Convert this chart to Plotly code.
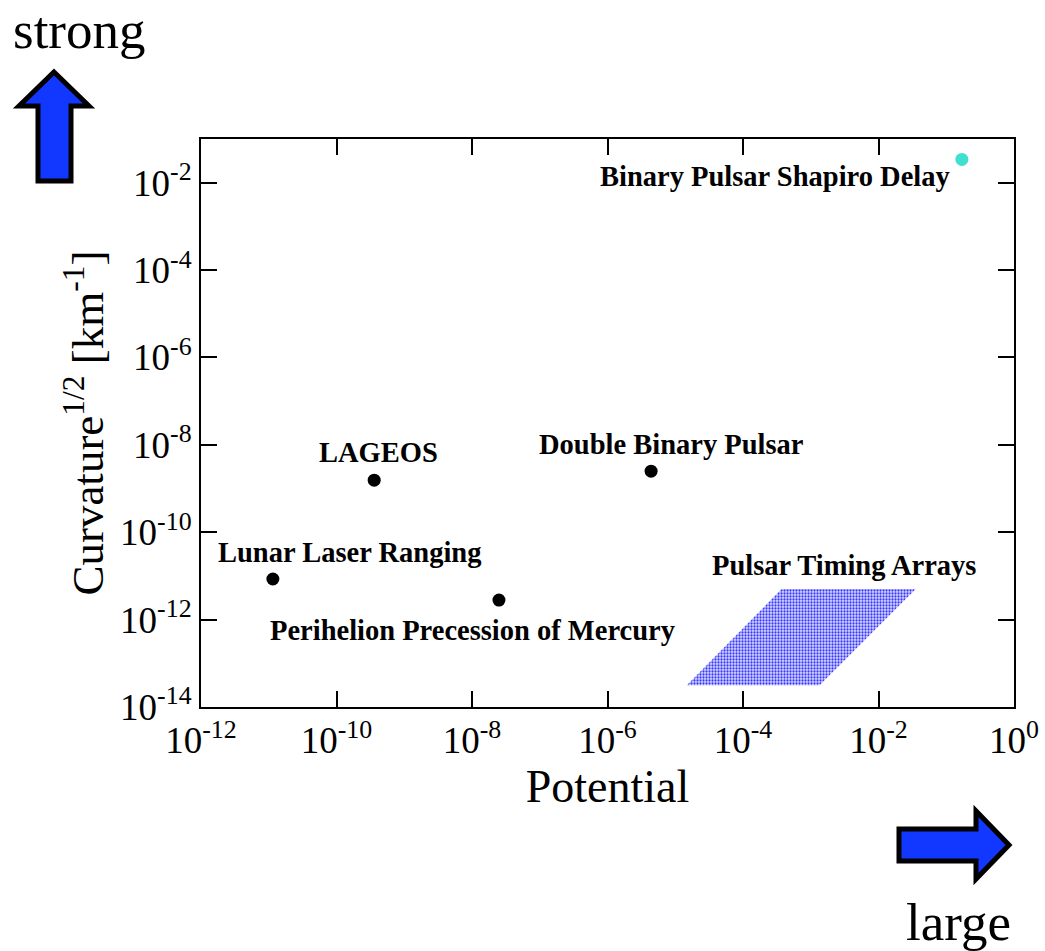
import numpy as np
import plotly.graph_objects as go

# ---- data ----
experiments = ["Lunar Laser Ranging", "LAGEOS", "Perihelion Precession of Mercury", "Double Binary Pulsar"]
potential = [1.15e-11, 3.6e-10, 2.5e-8, 4.4e-6]
curvature = [8.5e-12, 1.55e-9, 2.8e-12, 2.5e-9]

shapiro_name = "Binary Pulsar Shapiro Delay"
shapiro_potential = [0.17]
shapiro_curvature = [0.034]

pta_name = "Pulsar Timing Arrays"
pta_potential = [10**-4.83, 10**-2.87, 10**-1.45, 10**-3.43, 10**-4.83]
pta_curvature = [10**-13.5, 10**-13.5, 10**-11.3, 10**-11.3, 10**-13.5]

tick_exponents = [-14, -12, -10, -8, -6, -4, -2, 0]

# label offsets in pixels (style)
label_shift = {
    "Lunar Laser Ranging": (77, 27),
    "LAGEOS": (4, 28),
    "Perihelion Precession of Mercury": (-26, -30),
    "Double Binary Pulsar": (20, 27),
}

W, H = 1045, 951
L, R, T, B = 201, 31, 139, 244
SERIF = "Liberation Serif, Times New Roman, serif"

fig = go.Figure()

fig.add_trace(go.Scatter(
    x=pta_potential, y=pta_curvature, mode="lines", fill="toself",
    line=dict(width=0, color="rgba(0,0,0,0)"),
    fillcolor="rgba(255,255,255,0)",
    fillpattern=dict(shape=".", fgcolor="#3a3aff", bgcolor="#dcdcff", fgopacity=1,
                     size=3, solidity=0.45),
    hoverinfo="skip", showlegend=False))

fig.add_trace(go.Scatter(
    x=potential, y=curvature, mode="markers",
    marker=dict(color="black", size=13), showlegend=False))

fig.add_trace(go.Scatter(
    x=shapiro_potential, y=shapiro_curvature, mode="markers",
    marker=dict(color="#40e0d0", size=13), showlegend=False))

ann_font = dict(family=SERIF, size=28.5, color="black")
for name, xv, yv in zip(experiments, potential, curvature):
    dx, dy = label_shift[name]
    fig.add_annotation(x=np.log10(xv), y=np.log10(yv), text="<b>%s</b>" % name,
                       showarrow=False, xshift=dx, yshift=dy, font=ann_font)

fig.add_annotation(x=np.log10(shapiro_potential[0]), y=np.log10(shapiro_curvature[0]),
                   text="<b>%s</b>" % shapiro_name, showarrow=False,
                   xshift=-187, yshift=-17, font=ann_font)

pta_top_x = np.log10((pta_potential[2] * pta_potential[3]) ** 0.5)
fig.add_annotation(x=pta_top_x, y=np.log10(pta_curvature[2]),
                   text="<b>%s</b>" % pta_name, showarrow=False,
                   xshift=-5, yshift=24, font=ann_font)

ticktext = ["10<sup>%d</sup>" % e for e in tick_exponents]
tickvals = [10.0 ** e for e in tick_exponents]

axis_common = dict(
    type="log", showgrid=False, zeroline=False, showline=True, linecolor="black",
    linewidth=2, mirror="ticks", ticks="inside", ticklen=16, tickwidth=2,
    tickcolor="black", tickvals=tickvals, ticktext=ticktext, automargin=False,
    tickfont=dict(family=SERIF, size=37, color="black"),
)

fig.update_xaxes(range=[-12, 0], title=dict(text="Potential", font=dict(family=SERIF, size=46, color="black"), standoff=7), **axis_common)
fig.update_yaxes(range=[-14, -1], title=dict(text="Curvature<sup>1/2</sup> [km<sup>-1</sup>]", font=dict(family=SERIF, size=45, color="black"), standoff=2), **axis_common)


def px_to_paper(px, py):
    return ((px - L) / (W - L - R), 1 - (py - T) / (H - T - B))


def path_from(points):
    pts = [px_to_paper(*p) for p in points]
    return "M " + " L ".join("%.5f,%.5f" % p for p in pts) + " Z"


up_arrow = [(54, 72), (89, 106), (71, 106), (71, 181), (38, 181), (38, 106), (19, 106)]
right_arrow = [(1009, 845), (976, 879), (976, 861), (899, 861), (899, 829), (976, 829), (976, 811)]
for pts in (up_arrow, right_arrow):
    fig.add_shape(type="path", xref="paper", yref="paper", path=path_from(pts),
                  fillcolor="#1238ff", line=dict(color="black", width=5), layer="above")

sx, sy = px_to_paper(80, 30)
fig.add_annotation(xref="paper", yref="paper", x=sx, y=sy, xanchor="center", yanchor="middle",
                   text="strong", showarrow=False, font=dict(family=SERIF, size=53, color="black"))
lx, ly = px_to_paper(958, 922)
fig.add_annotation(xref="paper", yref="paper", x=lx, y=ly, xanchor="center", yanchor="middle",
                   text="large", showarrow=False, font=dict(family=SERIF, size=53, color="black"))

fig.update_layout(
    width=W, height=H, margin=dict(l=L, r=R, t=T, b=B, autoexpand=False),
    paper_bgcolor="white", plot_bgcolor="white", showlegend=False,
)

fig.write_html("out.html", config={"displayModeBar": False},
               post_script="document.body.style.margin='0px';document.body.style.overflow='hidden';")
